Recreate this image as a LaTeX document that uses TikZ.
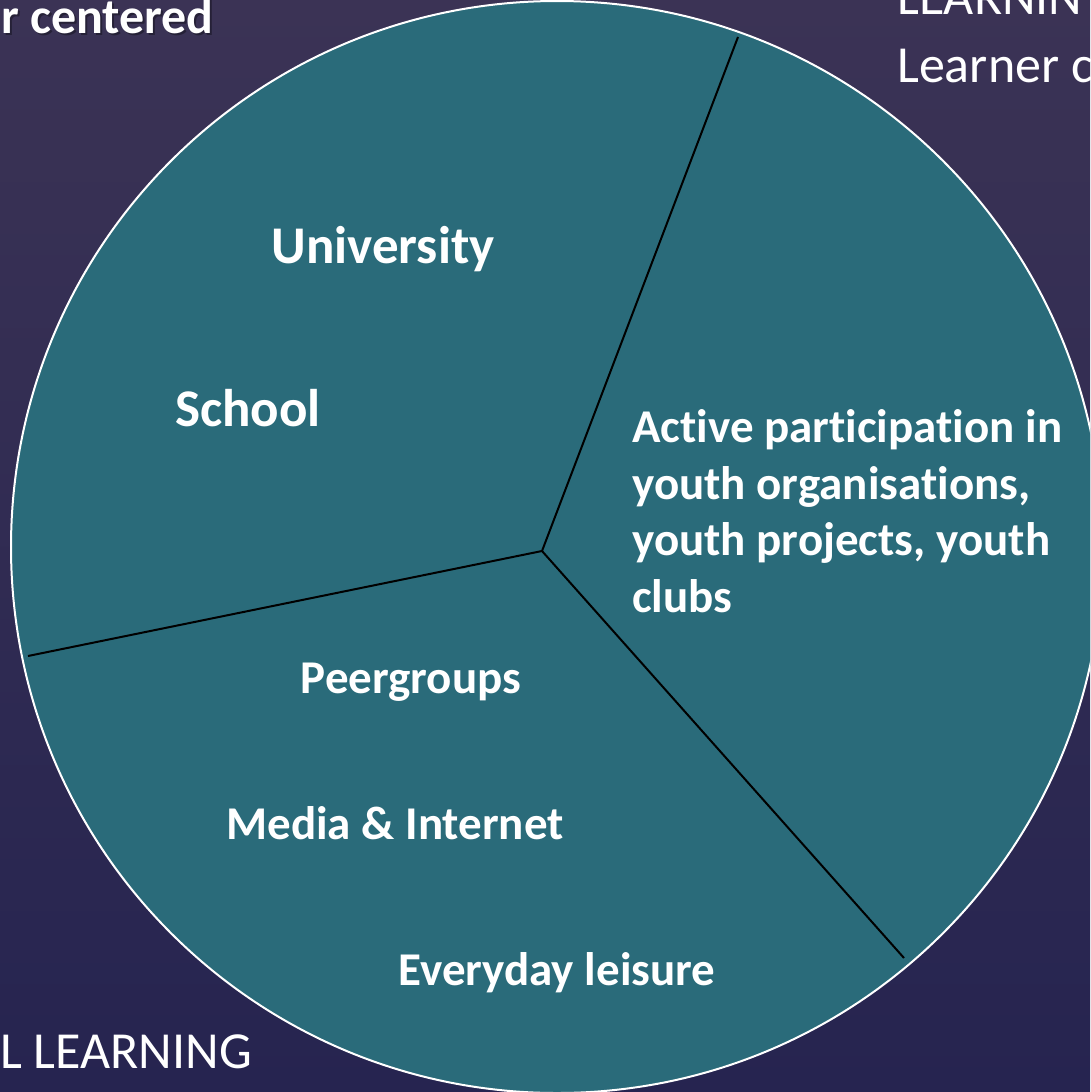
\documentclass[tikz,border=0pt]{standalone}
\usepackage{fontspec}
\setmainfont{Carlito}[Ligatures=NoCommon]
\begin{document}
\begin{tikzpicture}[x=1pt,y=-1pt,
  lbl/.style={text=white,font=\bfseries\fontsize{47}{56.5}\selectfont,inner sep=0pt},
  biglbl/.style={text=white,font=\bfseries\fontsize{53}{60}\selectfont,inner sep=0pt},
  side/.style={text=white,font=\fontsize{52}{60}\selectfont,inner sep=0pt},
  divider/.style={draw=black,line width=2pt}]
\useasboundingbox (0,0) rectangle (1090,1092);
\clip (0,0) rectangle (1090,1092);
\shade[top color={rgb,255:red,59;green,51;blue,85},bottom color={rgb,255:red,38;green,36;blue,80}] (0,0) rectangle (1090,1092);
% side texts
\node[side,anchor=base west] (t1) at (897,14) {LEARNIN};
\node[side,anchor=base west] (t2) at (897,82) {Learner c};
\node[side,anchor=base west] (t3) at (0,1068) {L LEARNING};
\node[lbl,font=\bfseries\fontsize{50}{60}\selectfont,anchor=base west,text=black,opacity=0.35] (t4s) at (3,35) {r centered};
\node[lbl,font=\bfseries\fontsize{50}{60}\selectfont,anchor=base west] (t4) at (1,33) {r centered};
% circle
\fill[fill={rgb,255:red,42;green,107;blue,122}] (557,547) circle (546);
\draw[white,line width=2pt] (557,547) circle (546);
\coordinate (c) at (542,551);
\coordinate (pt) at (738,37);
\coordinate (pl) at (28,656);
\coordinate (pr) at (904,958);
\draw[divider] (c) -- (pt);
\draw[divider] (c) -- (pl);
\draw[divider] (c) -- (pr);
% labels
\node[biglbl,anchor=base] (u) at (383,263) {University};
\node[biglbl,anchor=base] (s) at (248,426) {School};
\node[lbl,anchor=base west,align=left] (a) at (632,612) {Active participation in\\youth organisations,\\youth projects, youth\\clubs};
\node[lbl,anchor=base] (p) at (411,693) {Peergroups};
\node[lbl,anchor=base] (m) at (395,839) {Media \& Internet};
\node[lbl,anchor=base] (e) at (557,985) {Everyday leisure};
\end{tikzpicture}
\end{document}
